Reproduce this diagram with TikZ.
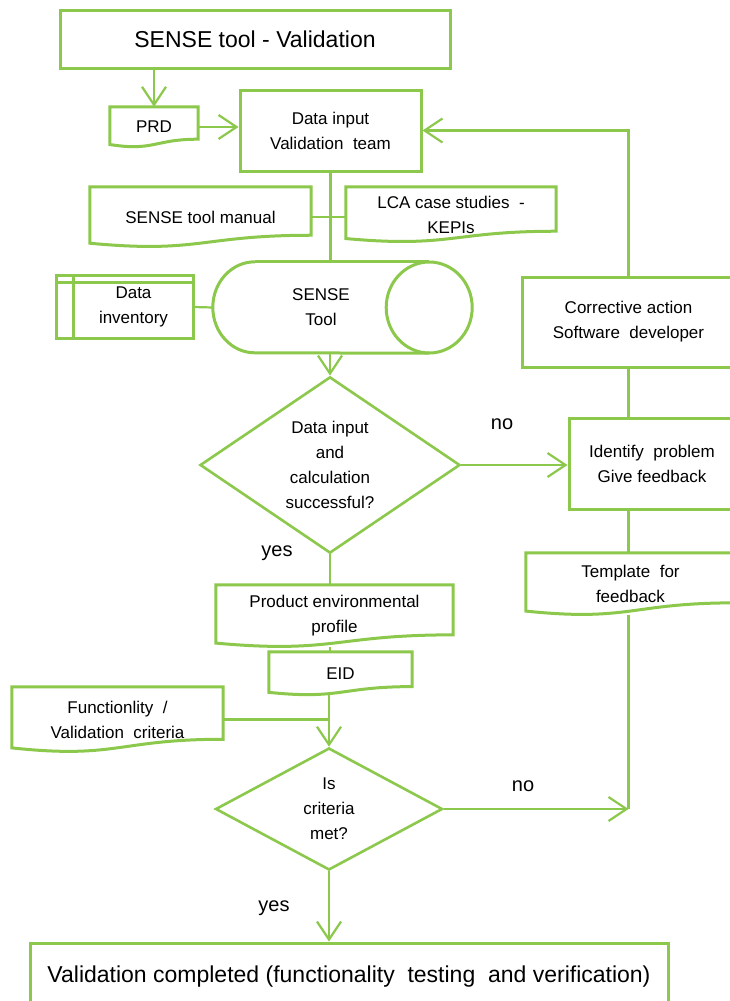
\documentclass[tikz,border=0pt]{standalone}
\usepackage{fontspec}
\setmainfont{Liberation Sans}
\usetikzlibrary{shapes.geometric,arrows.meta,calc}
\definecolor{lg}{RGB}{140,200,75}
\newcommand\smalltxt{\fontsize{17}{25}\selectfont}
\newcommand\bigtxt{\fontsize{23}{28}\selectfont}
\newcommand\lbltxt{\fontsize{20}{24}\selectfont}
\newcommand\docline[1]{%
  \draw[boxline] ($(#1.north west)!0.934!(#1.south west)$) -- (#1.north west) -- (#1.north east)
    -- ($(#1.north east)!0.802!(#1.south east)$)
    .. controls ($(#1.north)!0.802!(#1.south)$) and ($(#1.north)!1.107!(#1.south)$) ..
    ($(#1.north west)!0.934!(#1.south west)$) -- cycle;}
\tikzset{
  boxline/.style={draw=lg, line width=3pt, line join=miter},
  conn/.style={draw=lg, line width=2.2pt},
  arr/.style={conn, -{Straight Barb[length=18pt,width=24pt,line width=2.2pt]}},
  plainbox/.style={rectangle, boxline, inner sep=0pt, align=center, font=\smalltxt},
  docbox/.style={rectangle, inner sep=0pt, align=center, font=\smalltxt},
  decision/.style={diamond, draw=lg, line width=2.6pt, inner sep=0pt, align=center, font=\smalltxt},
  lbl/.style={font=\lbltxt, inner sep=0pt},
}
\begin{document}
\begin{tikzpicture}[x=1pt,y=-1pt]
\fill[white] (0,0) rectangle (729,1001);
\useasboundingbox (0,0) rectangle (729,1001);

% nodes
\node[plainbox, font=\bigtxt, minimum width=390pt, minimum height=58pt] (title) at (255,39) {SENSE tool - Validation};
\node[docbox, minimum width=88pt, minimum height=40pt] (prd) at (154,127) {PRD};
\node[plainbox, minimum width=181pt, minimum height=81pt] (datain) at (330.5,130.5) {Data input\\Validation\ \ team};
\node[docbox, minimum width=221pt, minimum height=60pt] (manual) at (200.5,217) {SENSE tool manual};
\node[docbox, minimum width=210pt, minimum height=55pt] (lca) at (451,214.5) {LCA case studies\ \ -\\KEPIs};
\node[docbox, minimum width=119pt, minimum height=62pt] (inv) at (133.5,307) {Data\\inventory};
\node[docbox, minimum width=216pt, minimum height=91pt] (tool) at (321,307.5) {SENSE\\Tool};
\node[plainbox, minimum width=213pt, minimum height=90pt] (corr) at (628.5,322) {Corrective action\\Software\ \ developer};
\node[decision, minimum width=260pt, minimum height=150pt] (dec1) at (330,465) {Data input\\and\\calculation\\successful?};
\node[plainbox, minimum width=166pt, minimum height=91pt] (ident) at (652,463.5) {Identify\ \ problem\\Give feedback};
\node[docbox, minimum width=209pt, minimum height=62pt] (tmpl) at (630.5,584) {Template\ \ for\\feedback};
\node[docbox, minimum width=237pt, minimum height=62pt] (pep) at (334.5,616) {Product environmental\\profile};
\node[docbox, minimum width=143pt, minimum height=43pt] (eid) at (340.5,673.5) {EID};
\node[docbox, minimum width=211pt, minimum height=65pt] (func) at (117.5,719.5) {Functionlity\ \ /\\Validation\ \ criteria};
\node[decision, minimum width=227pt, minimum height=122pt] (dec2) at (329,809) {Is\\criteria\\met?};
\node[plainbox, font=\bigtxt, minimum width=638pt, minimum height=67pt] (final) at (349,976.5) {Validation completed (functionality\ \ testing\ \ and verification)};

% document outlines
\docline{prd}
\docline{manual}
\docline{lca}
\docline{tmpl}
\docline{pep}
\docline{eid}
\docline{func}

% internal storage outline
\draw[boxline] ($(inv.north west)+(-17,0)$) rectangle (inv.south east);
\draw[boxline] ($(inv.north west)+(-17,7)$) -- ($(inv.north east)+(0,7)$);
\draw[boxline] (inv.north west) -- (inv.south west);

% cylinder outline
\draw[boxline] (tool.north west) ++(42,0) coordinate (cylt)
  arc[start angle=90,end angle=270,x radius=42pt,y radius=45.5pt] -- (tool.south east);
\draw[boxline] (cylt) -- (tool.north east);
\draw[boxline] (tool.east) ellipse[x radius=43pt, y radius=45.5pt];

% connectors
\draw[arr] (title.south -| prd.north) -- (prd.north);
\draw[arr] (prd.east) -- (prd.east -| datain.west);
\draw[conn] (datain.south) -- (datain.south |- tool.north);
\draw[conn] (manual.east) -- (manual.east -| lca.west);
\draw[conn] (inv.east) -- (tool.west);
\draw[arr] (dec1.north |- tool.south) -- (dec1.north);
\draw[arr] (dec1.east) -- (dec1.east -| ident.west);
\draw[arr] (corr.north) |- (datain.east);
\draw[conn] (corr.south) -- (corr.south |- ident.north);
\draw[conn] (corr.south |- ident.south) -- (corr.south |- tmpl.north);
\coordinate (join) at (corr.south |- dec2.east);
\draw[conn] (corr.south |- tmpl.south) -- (join);
\draw[arr] (dec2.east) -- (join);
\draw[conn] (dec1.south) -- (dec1.south |- pep.north);
\draw[conn] (dec1.south |- pep.south) -- (dec1.south |- eid.north);
\draw[arr] (dec2.north |- eid.south) -- (dec2.north);
\draw[conn] (func.east) -- (func.east -| dec2.north);
\draw[arr] (dec2.south) -- (dec2.south |- final.north);

% labels
\node[lbl] (no1) at (502,424) {no};
\node[lbl] (no2) at (523,786) {no};
\node[lbl] (yes1) at (277,553) {yes};
\node[lbl] (yes2) at (274,908) {yes};
\end{tikzpicture}
\end{document}
